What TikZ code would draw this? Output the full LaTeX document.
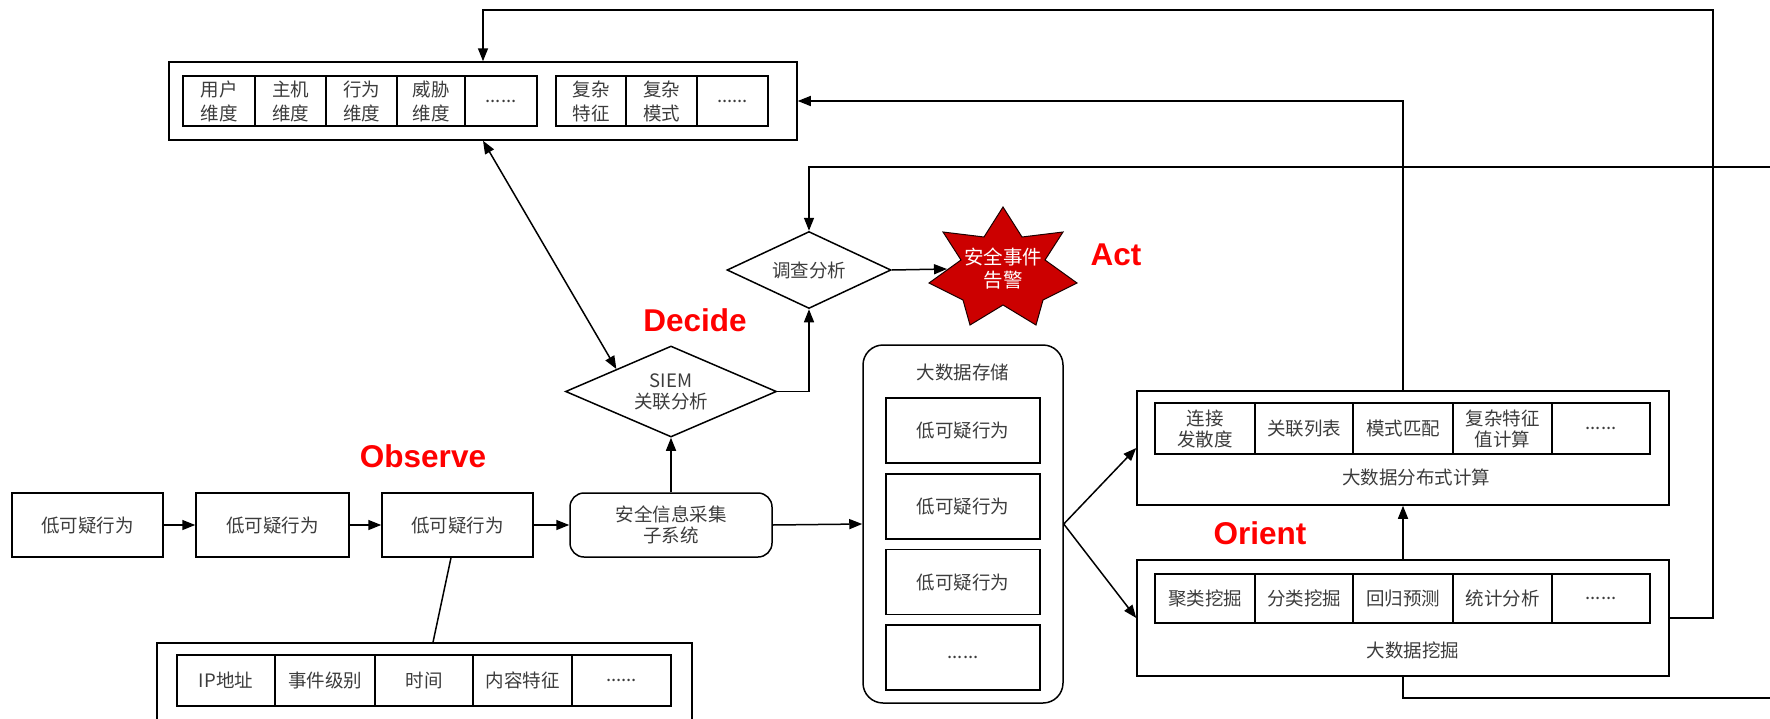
\documentclass[tikz,border=0pt]{standalone}
\usepackage{fontspec}
\setmainfont{Noto Sans CJK SC}
\newfontfamily\latinbold{Liberation Sans}
\usetikzlibrary{arrows.meta,calc,positioning,shapes.geometric}

\definecolor{txtgray}{HTML}{3C3C3C}
\definecolor{ooda}{HTML}{FF0000}
\definecolor{alarmfill}{HTML}{CC0000}
\definecolor{alarmedge}{HTML}{1A0000}

\newcommand\cnsize{\fontsize{18.5}{21}\selectfont}
\newcommand\cnsizewide{\fontsize{18.5}{24}\selectfont}

\tikzset{
  x=1pt, y=-1pt,
  plain/.style={draw=black, line width=1.5pt, inner sep=0pt, align=center,
                text=txtgray, font=\cnsize},
  cell/.style={plain},
  frame/.style={draw=black, line width=1.5pt, inner sep=0pt},
  roundbox/.style={plain, rounded corners=#1},
  decision/.style={plain, shape=diamond},
  link/.style={draw=black, line width=1.5pt},
  arr/.style={link, -{Triangle[length=13pt,width=10pt]}},
  biarr/.style={link, {Triangle[length=13pt,width=10pt]}-{Triangle[length=13pt,width=10pt]}},
  oodalabel/.style={text=ooda, font=\latinbold\bfseries\fontsize{31.5}{34}\selectfont, inner sep=0pt},
  caption/.style={text=txtgray, font=\cnsize, inner sep=0pt, align=center},
  alarmstar/.style={fill=alarmfill, draw=alarmedge, line width=1pt, line join=miter},
}

\begin{document}
\begin{tikzpicture}
\useasboundingbox (0,0) rectangle (1770,718);
\clip (0,0) rectangle (1770,718);

% ---------- dimension library (top) ----------
\node[frame, minimum width=628pt, minimum height=78pt] (topbox) at (483,101) {};
\begin{scope}[every node/.style={cell, minimum height=50pt, font=\cnsizewide}]
  \node[minimum width=72pt] (d1) at (219,101) {用户\\维度};
  \node[minimum width=71pt] (d2c) at (290.5,101) {主机\\维度};
  \node[minimum width=71pt] (d3) at (361.5,101) {行为\\维度};
  \node[minimum width=68pt] (d4) at (431,101) {威胁\\维度};
  \node[minimum width=72pt] (d5) at (501,101) {......};
  \node[minimum width=70pt] (d6) at (591,101) {复杂\\特征};
  \node[minimum width=71pt] (d7) at (661.5,101) {复杂\\模式};
  \node[minimum width=71pt] (d8) at (732.5,101) {......};
\end{scope}

% ---------- observe chain ----------
\node[plain, minimum width=151pt, minimum height=64pt] (obs1) at (87.5,525) {低可疑行为};
\node[plain, minimum width=153pt, minimum height=64pt] (obs2) at (272.5,525) {低可疑行为};
\node[plain, minimum width=151pt, minimum height=64pt] (obs3) at (457.5,525) {低可疑行为};
\node[roundbox=14pt, minimum width=202pt, minimum height=64pt] (collect) at (671,525) {安全信息采集\\子系统};

% event attributes
\node[frame, minimum width=535pt, minimum height=97pt] (attr) at (424.5,691.5) {};
\begin{scope}[every node/.style={cell, minimum height=51pt}]
  \node[minimum width=98pt] (a1) at (226,680.5) {IP地址};
  \node[minimum width=100pt] (a2) at (325,680.5) {事件级别};
  \node[minimum width=98pt] (a3) at (424,680.5) {时间};
  \node[minimum width=99pt] (a4) at (522.5,680.5) {内容特征};
  \node[minimum width=99pt] (a5) at (621.5,680.5) {......};
\end{scope}

% ---------- decide ----------
\node[decision, minimum width=211pt, minimum height=91pt] (siem) at (671,391.5) {};
\node[caption] at (671,391.5) {SIEM\\关联分析};
\node[decision, minimum width=164pt, minimum height=77pt] (inv) at (809,270) {};
\node[caption] at (809,270) {调查分析};

% ---------- act: alarm star (seven points) ----------
\coordinate (starc) at (1003,273);
\begin{scope}[shift={(starc)}]
  \filldraw[alarmstar]
    (0,-66) -- (19,-36) -- (60,-41) -- (42,-13) -- (74,10) -- (40,27) -- (33,52)
    -- (0,32) -- (-33,52) -- (-40,27) -- (-74,10) -- (-42,-13) -- (-60,-41)
    -- (-19,-36) -- cycle;
\end{scope}
\node[text=white, align=center, inner sep=0pt, font=\fontsize{19.5}{23}\selectfont] (alarm) at (1003,268.5) {安全事件\\告警};
\coordinate (starin) at (947,269);

% ---------- big data storage ----------
\node[roundbox=20pt, minimum width=200pt, minimum height=358pt] (store) at (963,524) {};
\node[caption] (storetitle) at (963,372) {大数据存储};
\begin{scope}[every node/.style={cell, minimum width=154pt, minimum height=65pt}]
  \node (s1) at (963,430.5) {低可疑行为};
  \node (s2) at (963,506.5) {低可疑行为};
  \node (s3) at (963,582) {低可疑行为};
  \node (s4) at (963,657.5) {......};
\end{scope}

% ---------- distributed computing ----------
\node[frame, minimum width=532pt, minimum height=114pt] (compute) at (1403,448) {};
\begin{scope}[every node/.style={cell, minimum height=51pt}]
  \node[minimum width=100pt] (c1) at (1205,428.5) {连接\\发散度};
  \node[minimum width=98pt] (c2) at (1304,428.5) {关联列表};
  \node[minimum width=100pt] (c3) at (1403,428.5) {模式匹配};
  \node[minimum width=99pt] (c4) at (1502.5,428.5) {复杂特征\\值计算};
  \node[minimum width=98pt] (c5) at (1601,428.5) {......};
\end{scope}
\node[caption] (computetitle) at (1416,477) {大数据分布式计算};

% ---------- data mining ----------
\node[frame, minimum width=532pt, minimum height=116pt] (mining) at (1403,618) {};
\begin{scope}[every node/.style={cell, minimum height=49pt}]
  \node[minimum width=100pt] (m1) at (1205,598.5) {聚类挖掘};
  \node[minimum width=98pt] (m2) at (1304,598.5) {分类挖掘};
  \node[minimum width=100pt] (m3) at (1403,598.5) {回归预测};
  \node[minimum width=99pt] (m4) at (1502.5,598.5) {统计分析};
  \node[minimum width=98pt] (m5) at (1601,598.5) {......};
\end{scope}
\node[caption] (miningtitle) at (1413,650) {大数据挖掘};

% ---------- OODA labels ----------
\node[oodalabel] (lobs) at (423,456) {Observe};
\node[oodalabel] (ldec) at (695,320) {Decide};
\node[oodalabel] (lori) at (1260,533) {Orient};
\node[oodalabel] (lact) at (1116,255) {Act};

% ---------- connectors ----------
\draw[arr] (obs1) -- (obs2);
\draw[arr] (obs2) -- (obs3);
\draw[arr] (obs3) -- (collect);
\draw[link] ($(obs3.south)+(-6.5,0)$) -- ($(attr.north)+(8.5,0)$);
\draw[arr] (collect.north) -- (siem.south);
\draw[arr] (collect.east) -- (store.west);
\draw[arr] (siem.east) -| (inv.south);
\draw[arr] (inv.east) -- (starin);
\draw[biarr] (topbox.south) -- ($(siem.west)!0.486!(siem.north)$);

\draw[arr] (store.east) -- (compute.west);
\draw[arr] (store.east) -- (mining.west);
\draw[arr] (mining.north) -- (compute.south);

% feedback loops
\coordinate (loopne) at (1713,10);
\draw[arr] (mining.east) -| (loopne) -| (topbox.north);
\draw[arr] (compute.north) |- (topbox.east);
\coordinate (loopse) at (1780,698);
\coordinate (loopin) at (1780,167);
\draw[link] (mining.south) |- (loopse);
\draw[arr] (loopin) -| (inv.north);
\end{tikzpicture}
\end{document}
